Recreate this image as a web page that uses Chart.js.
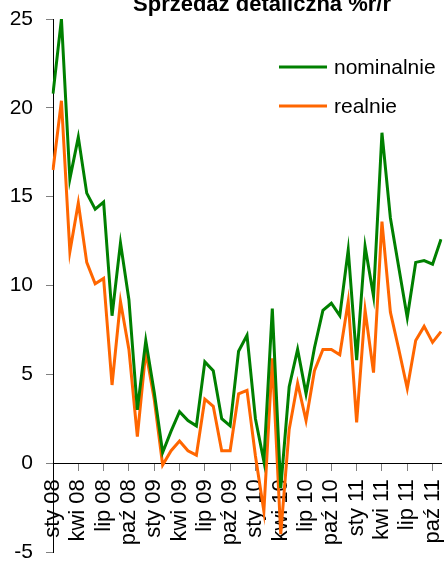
<!DOCTYPE html>
<html><head><meta charset="utf-8">
<script src="https://cdn.jsdelivr.net/npm/chart.js@4/dist/chart.umd.min.js"></script>
<style>body{margin:0;background:#fff}canvas{display:block}</style>
</head><body>
<canvas id="c" width="444" height="561"></canvas>
<script>
const months=['sty 08','lut 08','mar 08','kwi 08','maj 08','cze 08','lip 08','sie 08','wrz 08','paź 08','lis 08','gru 08',
'sty 09','lut 09','mar 09','kwi 09','maj 09','cze 09','lip 09','sie 09','wrz 09','paź 09','lis 09','gru 09',
'sty 10','lut 10','mar 10','kwi 10','maj 10','cze 10','lip 10','sie 10','wrz 10','paź 10','lis 10','gru 10',
'sty 11','lut 11','mar 11','kwi 11','maj 11','cze 11','lip 11','sie 11','wrz 11','paź 11','lis 11'];
const nominalnie=[20.8,25.0,16.0,18.35,15.2,14.3,14.7,8.3,12.4,9.2,3.0,6.9,4.0,0.6,1.8,2.9,2.4,2.1,5.7,5.2,2.5,2.1,6.3,7.2,
2.5,0.1,8.7,-1.4,4.3,6.4,3.9,6.5,8.6,9.0,8.3,12.0,5.8,12.2,9.4,18.6,13.8,11.0,8.2,11.3,11.4,11.2,12.6];
const realnie=[16.5,20.4,11.9,14.65,11.3,10.1,10.4,4.4,9.1,6.4,1.5,6.3,3.6,-0.1,0.7,1.25,0.7,0.45,3.6,3.2,0.7,0.7,3.9,4.1,
0.4,-2.7,5.9,-4.0,1.9,4.5,2.4,5.2,6.4,6.4,6.1,9.1,2.3,8.6,5.1,13.6,8.5,6.4,4.2,6.9,7.7,6.8,7.4];
const yTicks=[-5,0,5,10,15,20,25];
const title='Sprzedaż detaliczna %r/r';
const font='"Liberation Sans", Arial, sans-serif';

// title (cut off at top) and legend drawn by hand
const extras={id:'extras',afterDraw(ch){
const c=ch.ctx;c.save();
c.fillStyle='#000';c.font='bold 22px '+font;c.textAlign='center';c.textBaseline='alphabetic';
c.fillText(title,262,11);
c.font='21px '+font;c.textAlign='left';c.textBaseline='middle';
ch.data.datasets.forEach((d,i)=>{const y=67+i*39;
c.strokeStyle=d.borderColor;c.lineWidth=3;c.beginPath();c.moveTo(279,y);c.lineTo(327,y);c.stroke();
c.fillText(d.label,334,y+1);});
c.restore();}};

new Chart(document.getElementById('c'),{type:'line',
data:{labels:months,datasets:[
{label:'nominalnie',data:nominalnie,borderColor:'#008000',backgroundColor:'#008000',borderWidth:3,pointRadius:0,tension:0},
{label:'realnie',data:realnie,borderColor:'#ff6600',backgroundColor:'#ff6600',borderWidth:3,pointRadius:0,tension:0}]},
options:{responsive:false,animation:false,
layout:{padding:{top:19,right:3,bottom:9,left:0}},
plugins:{legend:{display:false},tooltip:{enabled:false}},
scales:{
x:{type:'category',position:{y:0},offset:false,
afterFit:s=>{s.paddingTop=0;s.paddingBottom=0;s.paddingLeft=0;s.paddingRight=0},
grid:{drawOnChartArea:false,tickLength:7,color:'#808080'},border:{color:'#000'},
ticks:{autoSkip:false,minRotation:90,maxRotation:90,padding:9,color:'#000',font:{family:font,size:22},
callback:(v,i)=>i%3===0?months[i]:null}},
y:{min:-5,max:25,afterFit:s=>{s.width=53;s.paddingTop=0;s.paddingBottom=0},afterBuildTicks:s=>{s.ticks=yTicks.map(v=>({value:v}))},
grid:{drawOnChartArea:false,tickLength:7,color:'#808080'},border:{color:'#000'},
ticks:{padding:13,color:'#000',font:{family:font,size:21}}}}},
plugins:[extras]});
</script>
</body></html>
